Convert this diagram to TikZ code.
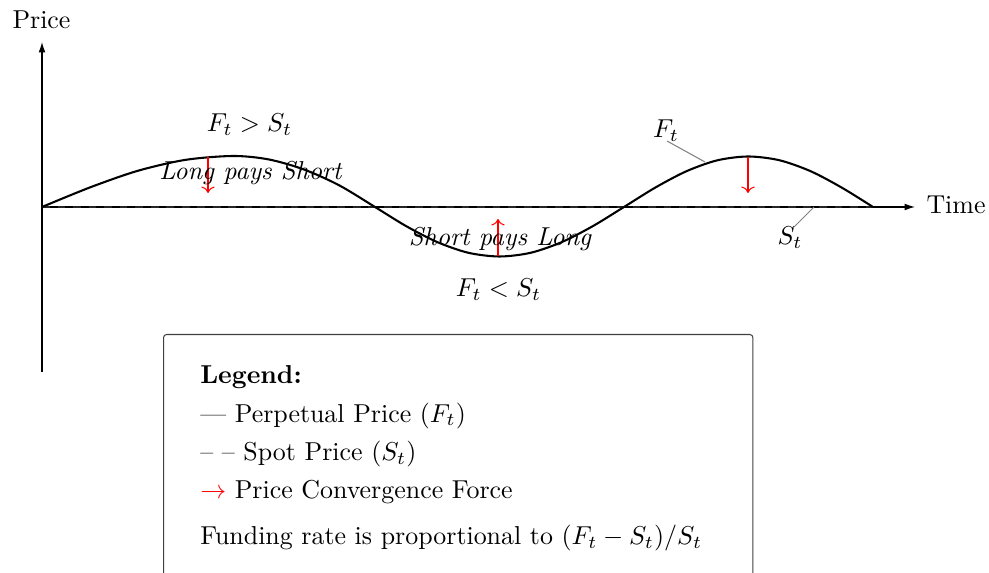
\documentclass[tikz,border=0pt]{standalone}
\usetikzlibrary{arrows.meta}
\begin{document}
\begin{tikzpicture}[x=0.3861pt,y=-0.3861pt,
  axis/.style={-{Latex[length=4pt,width=2.6pt]}},
  perp/.style={thick,black},
  spot/.style={thick,dashed,black!85},
  force/.style={->,red},
  pinline/.style={gray,thin},
  lbl/.style={inner sep=0pt,anchor=base},
  legendbox/.style={draw=black!75,rounded corners=1.2pt,anchor=north west,text width=7cm,align=left,inner xsep=14.2pt,inner ysep=12pt}]
\useasboundingbox (0,0) rectangle (989,573);
% axes
\coordinate (O) at (42,207);
\coordinate (ytop) at (42,42);
\coordinate (ybot) at (42,372);
\coordinate (xend) at (915,207);
\coordinate (send) at (873,207);
\draw[axis] (ybot) -- (ytop);
\draw[axis] (O) -- (xend);
\node[lbl] (price) at (41.5,29) {Price};
\node[lbl,anchor=base west] (time) at (926,214) {Time};
% spot and perpetual prices
\draw[spot] (O) -- (send);
\draw[perp] plot[smooth] coordinates {(42,207) (89.8,187.5) (137.5,170.9) (185.3,159.9) (233,156) (268.5,159.4) (304,169.5) (339.5,185.5) (375,207)
  (406.1,226.1) (437.3,242.1) (468.4,252.8) (499.5,256.5) (530.6,252.8) (561.8,242.1) (592.9,226.1) (624,207)
  (655.1,187.7) (686.3,171.3) (717.4,160.3) (748.5,156.5) (779.6,160.3) (810.8,171.3) (841.9,187.7) (873,207)};
% convergence forces
\coordinate (a1s) at (208,157); \coordinate (a1e) at (208,193);
\coordinate (a2s) at (498,256); \coordinate (a2e) at (498,219);
\coordinate (a3s) at (748,157); \coordinate (a3e) at (748,193);
\draw[force] (a1s) -- (a1e);
\draw[force] (a2s) -- (a2e);
\draw[force] (a3s) -- (a3e);
% labels
\node[lbl] (gt) at (249.5,132) {$F_t > S_t$};
\node[lbl,font=\itshape] (lps) at (250.5,180) {Long pays Short};
\node[lbl,font=\itshape] (spl) at (500,246) {Short pays Long};
\node[lbl] (lt) at (498.5,297) {$F_t < S_t$};
\node[lbl] (Fl) at (666,138) {$F_t$};
\node[lbl] (Sl) at (790,245) {$S_t$};
\coordinate (Fp) at (705,162); \coordinate (Fpe) at (667,141);
\coordinate (Sp) at (814,207); \coordinate (Spe) at (793,228);
\draw[pinline] (Fp) -- (Fpe);
\draw[pinline] (Sp) -- (Spe);
% legend
\node[legendbox] (legend) at (163,334) {\textbf{Legend:}\\[2.85pt]
--- Perpetual Price ($F_t$)\\[2.85pt]
-- -- Spot Price ($S_t$)\\[2.85pt]
\textcolor{red}{$\rightarrow$} Price Convergence Force\\[5.7pt]
Funding rate is proportional to $(F_t - S_t)/S_t$};
\end{tikzpicture}
\end{document}
